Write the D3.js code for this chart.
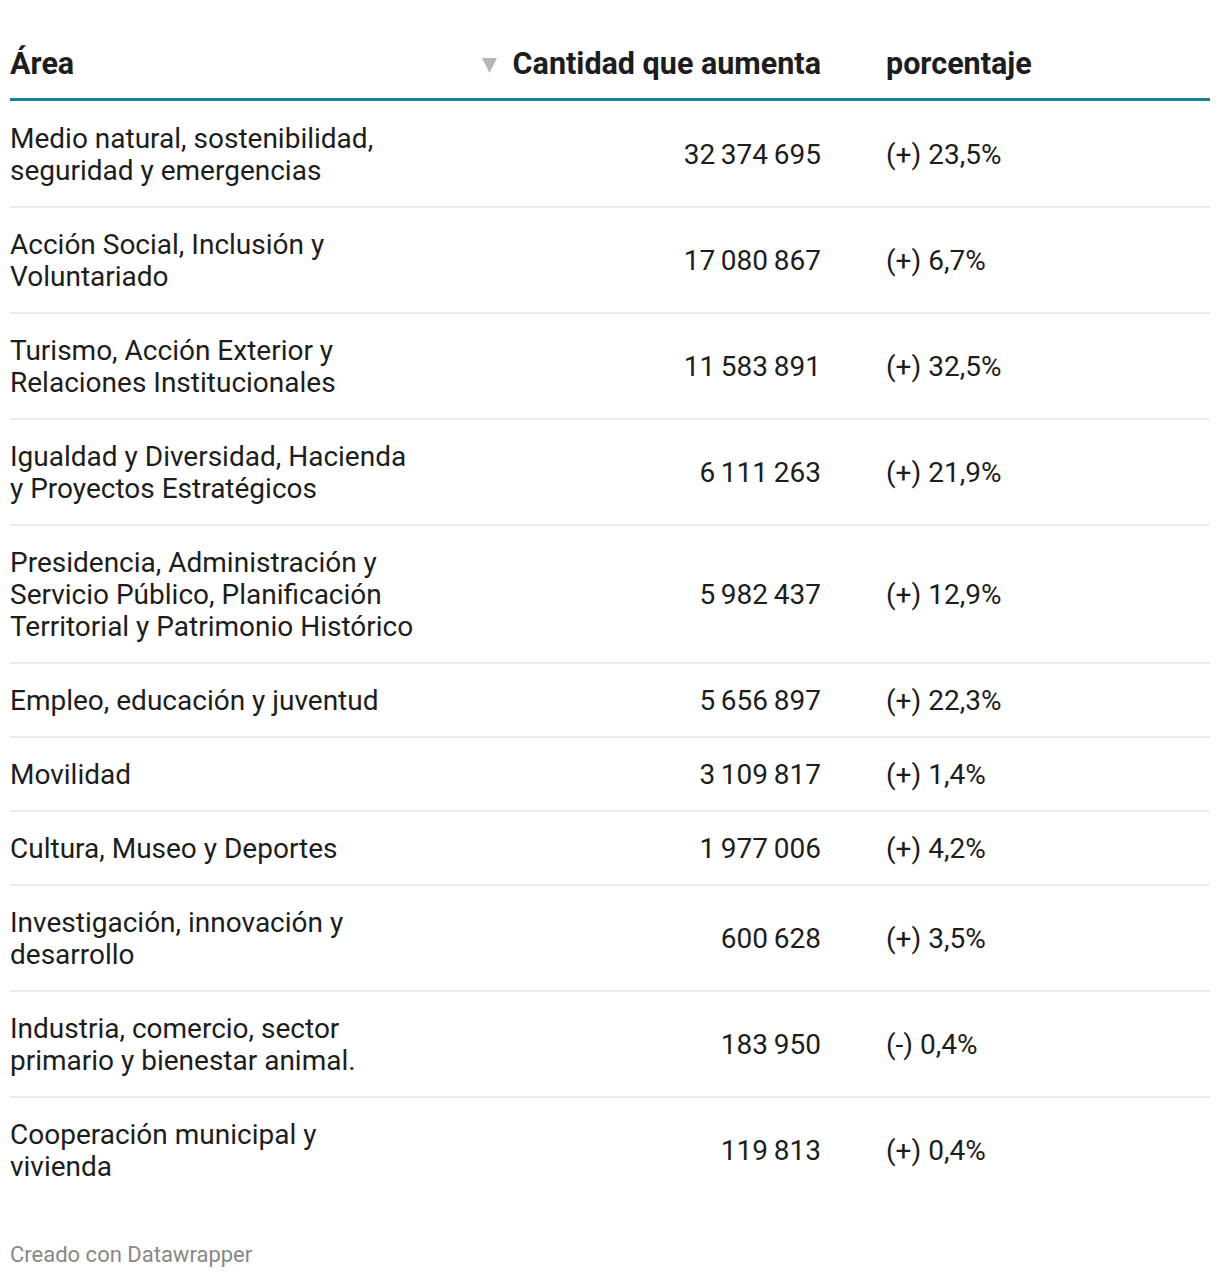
<!DOCTYPE html>
<html>
<head>
<meta charset="utf-8">
<script src="https://cdn.jsdelivr.net/npm/d3@7"></script>
<style>
  html, body { margin: 0; padding: 0; background: #fff; }
  svg { display: block; font-family: Roboto, "Noto Sans", sans-serif; }
</style>
</head>
<body>
<svg id="chart" width="1220" height="1278"></svg>
<script>
const headers = ["Área", "Cantidad que aumenta", "porcentaje"];
const areas = [
  "Medio natural, sostenibilidad, seguridad y emergencias",
  "Acción Social, Inclusión y Voluntariado",
  "Turismo, Acción Exterior y Relaciones Institucionales",
  "Igualdad y Diversidad, Hacienda y Proyectos Estratégicos",
  "Presidencia, Administración y Servicio Público, Planificación Territorial y Patrimonio Histórico",
  "Empleo, educación y juventud",
  "Movilidad",
  "Cultura, Museo y Deportes",
  "Investigación, innovación y desarrollo",
  "Industria, comercio, sector primario y bienestar animal.",
  "Cooperación municipal y vivienda"
];
const amounts = [32374695, 17080867, 11583891, 6111263, 5982437, 5656897, 3109817, 1977006, 600628, 183950, 119813];
const signs = ["+", "+", "+", "+", "+", "+", "+", "+", "+", "-", "+"];
const percents = [23.5, 6.7, 32.5, 21.9, 12.9, 22.3, 1.4, 4.2, 3.5, 0.4, 0.4];
const footer = "Creado con Datawrapper";

const svg = d3.select("#chart");
const left = 10, right = 1210;
const x = d3.scaleOrdinal().domain(headers).range([left, 821, 886]);
const bodySize = 28, headSize = 30.5, lineH = 32, pad = 21, wrapW = 408;
const textColor = "#1d1d1d";

// header
const headerBase = 74;
svg.append("text").attr("x", x(headers[0])).attr("y", headerBase)
  .attr("font-size", headSize).attr("font-weight", 700).attr("fill", textColor).text(headers[0]);
svg.append("text").attr("x", x(headers[1])).attr("y", headerBase).attr("text-anchor", "end")
  .attr("font-size", headSize).attr("font-weight", 700).attr("fill", textColor).text(headers[1]);
svg.append("path").attr("d", "M482,58 L497,58 L489.5,73 Z").attr("fill", "#b8b8b8");
svg.append("text").attr("x", x(headers[2])).attr("y", headerBase)
  .attr("font-size", headSize).attr("font-weight", 700).attr("fill", textColor).text(headers[2]);
svg.append("rect").attr("x", left).attr("y", 98).attr("width", right - left).attr("height", 3).attr("fill", "#1b7f9f");

// wrap measurement
const meas = svg.append("text").attr("font-size", bodySize).attr("visibility", "hidden");
function wrap(str) {
  const words = str.split(" ");
  const lines = [];
  let cur = "";
  for (const w of words) {
    const t = cur ? cur + " " + w : w;
    meas.text(t);
    if (meas.node().getComputedTextLength() > wrapW && cur) { lines.push(cur); cur = w; }
    else cur = t;
  }
  lines.push(cur);
  return lines;
}
const rows = areas.map((a, i) => ({ area: a, lines: wrap(a), amount: amounts[i], sign: signs[i], pct: percents[i] }));
meas.remove();

let y0 = 101;
rows.forEach(r => { r.top = y0; r.h = r.lines.length * lineH + 2 * pad; y0 += r.h; });

const fmtAmt = d => d3.format(",")(d).replace(/,/g, "\u2009");
const fmtPct = d => d3.format(".1f")(d).replace(".", ",");

const g = svg.selectAll("g.row").data(rows).join("g").attr("class", "row");
g.filter((d, i) => i > 0).append("rect")
  .attr("x", left).attr("y", d => d.top - 1).attr("width", right - left).attr("height", 2).attr("fill", "#ececec");
g.each(function(d) {
  const sel = d3.select(this);
  const t = sel.append("text").attr("font-size", bodySize).attr("fill", textColor);
  d.lines.forEach((l, k) => {
    t.append("tspan").attr("x", x(headers[0])).attr("y", d.top + pad + lineH * k + 26).text(l);
  });
  const mid = d.top + d.h / 2 + 10;
  sel.append("text").attr("x", x(headers[1])).attr("y", mid).attr("text-anchor", "end")
    .attr("font-size", bodySize).attr("fill", textColor).text(fmtAmt(d.amount));
  sel.append("text").attr("x", x(headers[2])).attr("y", mid)
    .attr("font-size", bodySize).attr("fill", textColor).text(`(${d.sign}) ${fmtPct(d.pct)}%`);
});

svg.append("text").attr("x", left).attr("y", 1262).attr("font-size", 22).attr("fill", "#888").text(footer);
</script>
</body>
</html>
